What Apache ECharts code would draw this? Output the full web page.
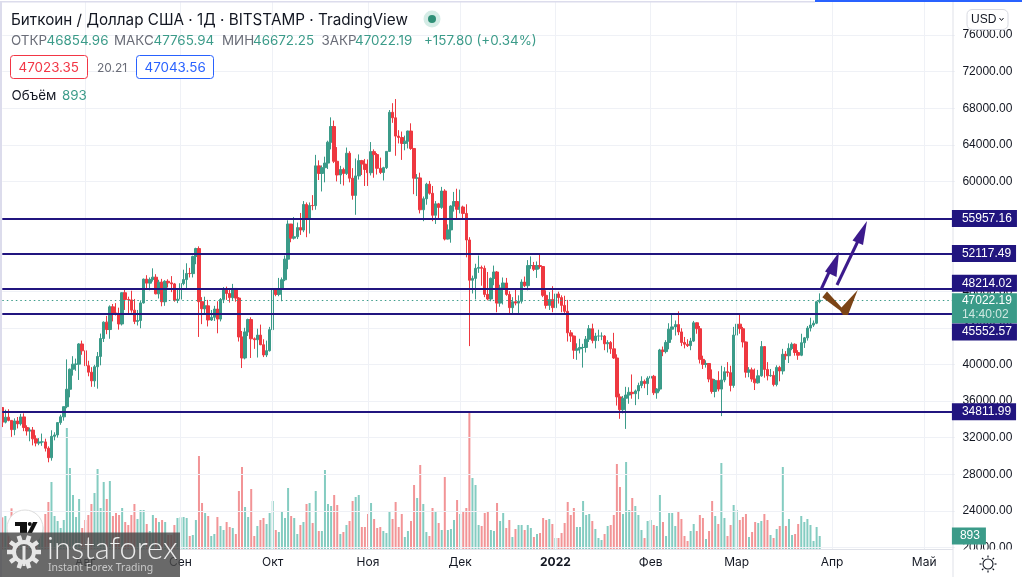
<!DOCTYPE html>
<html><head><meta charset="utf-8">
<style>html,body{margin:0;padding:0;background:#fff}#c{width:1022px;height:577px}</style>
<script src="https://cdn.jsdelivr.net/npm/echarts@6/dist/echarts.min.js"></script>
</head><body><div id="c"></div>
<script>
// one row per month: Jul(5-31) Aug Sep Oct Nov Dec Jan Feb Mar(1-28)
const opens=[
35290,33690,34230,33880,32870,33820,33500,34260,33100,32720,32820,31870,31400,31520,31530,30840,29800,32140,32290,33640,34270,35380,37280,39470,40020,40030,42230,
41490,39860,39150,38200,39740,40870,42830,44620,43810,46290,45600,45560,44420,47830,47100,47050,45930,44700,44800,46720,49320,48880,49290,49530,47720,48980,46850,49080,48910,48800,46990,
47130,48830,49270,49940,49920,51790,52660,46860,46090,46400,44850,45150,46050,44950,47100,48120,47750,47300,48300,47250,43000,40700,43550,44900,42800,42700,43200,42150,41030,41500,
43800,48150,47650,48200,49250,51500,55340,53800,53950,54950,54680,57480,56000,57370,57350,61700,60870,61500,62000,64280,66000,62200,60700,61300,60860,63080,60350,58470,60600,62270,61890,
61300,60950,63250,62930,61430,60970,61500,63280,67550,66950,64950,64800,64150,64400,65500,63600,60350,60380,56900,58100,59700,58700,56300,57550,57150,58950,53700,54700,57300,57800,
56950,57200,56500,53600,49200,49400,50500,50600,50500,47650,47150,49400,50100,46700,48350,48900,47650,46200,46850,46700,46900,49000,48600,50800,50800,50400,50800,50700,47550,46450,47100,
46200,47700,47300,46450,45800,43450,43100,41550,41700,41850,41850,42750,43900,42600,43100,43100,43100,42250,42400,41700,40700,36450,35050,36300,36650,36950,36800,37100,37700,38150,37900,
38500,38700,36900,37300,41570,41400,42400,43850,44100,44350,43550,42400,42200,42050,42550,44550,43900,40550,40000,40100,38400,37050,38250,37300,38300,39200,39100,37700,
43200,44400,43900,42450,39150,39400,38400,37990,38750,41950,39450,38750,38800,37800,39670,39280,41100,40950,41750,42200,41300,41000,42370,42900,43970,44300,44500,46854.96];
const closes=[
33690,34230,33880,32870,33820,33500,34260,33100,32720,32820,31870,31400,31520,31530,30840,29800,32140,32290,33640,34270,35380,37280,39470,40020,40030,42230,41490,
39860,39150,38200,39740,40870,42830,44620,43810,46290,45600,45560,44420,47830,47100,47050,45930,44700,44800,46720,49320,48880,49290,49530,47720,48980,46850,49080,48910,48800,46990,47130,
48830,49270,49940,49920,51790,52660,46860,46090,46400,44850,45150,46050,44950,47100,48120,47750,47300,48300,47250,43000,40700,43550,44900,42800,42700,43200,42150,41030,41500,43800,
48150,47650,48200,49250,51500,55340,53800,53950,54950,54680,57480,56000,57370,57350,61700,60870,61500,62000,64280,66000,62200,60700,61300,60860,63080,60350,58470,60600,62270,61890,61300,
60950,63250,62930,61430,60970,61500,63280,67550,66950,64950,64800,64150,64400,65500,63600,60350,60380,56900,58100,59700,58700,56300,57550,57150,58950,53700,54700,57300,57800,56950,
57200,56500,53600,49200,49400,50500,50600,50500,47650,47150,49400,50100,46700,48350,48900,47650,46200,46850,46700,46900,49000,48600,50800,50800,50400,50800,50700,47550,46450,47100,46200,
47700,47300,46450,45800,43450,43100,41550,41700,41850,41850,42750,43900,42600,43100,43100,43100,42250,42400,41700,40700,36450,35050,36300,36650,36950,36800,37100,37700,38150,37900,38500,
38700,36900,37300,41570,41400,42400,43850,44100,44350,43550,42400,42200,42050,42550,44550,43900,40550,40000,40100,38400,37050,38250,37300,38300,39200,39100,37700,43200,
44400,43900,42450,39150,39400,38400,37990,38750,41950,39450,38750,38800,37800,39670,39280,41100,40950,41750,42200,41300,41000,42370,42900,43970,44300,44500,46850,47022.19];
const highs=[
35300,35050,35100,33900,34100,34250,34600,34650,33340,33100,33160,32250,31950,32440,31880,31040,32800,32580,33650,34500,35400,40550,39550,40900,40630,42320,42600,
42550,40400,39700,39950,41350,43370,44700,45300,46450,46600,46700,46200,47880,48150,47400,48050,47150,45950,47000,49380,49750,49500,50500,49860,49250,49350,49200,49300,49650,48900,48250,
48850,50350,51050,50550,51880,52750,52900,47350,47400,47050,45950,46400,46900,47250,48450,48500,48150,48800,48350,47350,43650,44000,45000,45150,42950,43900,44350,42750,42600,44100,
48450,48350,49450,49500,51900,55750,55350,56100,55500,56550,57850,57700,57700,58500,62900,62300,61750,62700,64450,67000,66650,63750,61700,61500,63700,63300,61450,62500,62950,62350,62450,
62400,64300,63500,63100,62600,61600,63300,67800,68550,69000,65600,65450,65000,65550,66350,63600,60800,60950,58350,59850,60050,59500,57850,57650,59400,59150,55300,57400,58850,59200,
59100,57350,57500,53900,49700,51000,51900,50800,50800,50100,49500,50800,50200,48700,49500,49450,48000,47350,48300,47550,49300,49600,51400,51800,51200,51250,52100,50700,48100,47900,48550,
47900,47950,47550,47500,47050,43750,43150,42300,42800,42250,43100,44300,44450,43450,43800,43500,43200,42650,42550,43450,41100,36800,36550,37550,37500,38900,37250,38000,38700,38350,38700,
39250,38850,37400,41700,41950,42650,44500,45500,44800,45800,43950,43000,42750,42900,44750,44600,44200,40950,40450,40150,39450,38400,39250,39850,39700,40250,39850,44100,
44950,45400,44100,42500,39700,39650,39550,39400,42550,41950,40250,39500,39250,39900,39850,41700,41450,42300,42400,42300,41550,43350,43000,44200,45100,44800,46900,47765.94];
const lows=[
33150,33550,33780,32080,32260,33000,33320,32700,32220,31600,31150,31040,31170,31100,30480,29300,29480,31700,32000,33400,33850,35210,36400,38770,39300,38300,41050,
39450,38700,37550,37550,37350,39900,42450,43300,42800,44700,45350,43800,44250,45950,45550,45650,44400,44250,43950,46650,48350,48100,49050,47650,47200,46350,46400,48400,47900,46850,46700,
46550,48650,48350,49500,49500,50950,43000,44400,45500,44150,44750,44750,43400,44700,46700,47050,46750,47050,46850,42500,39600,40550,43100,40700,41700,40750,42100,40800,40800,41400,
43300,47450,47450,46900,49100,50400,53350,53650,53700,54150,54450,53900,54300,56850,56900,60150,58900,59900,61350,63500,62000,60000,59700,59550,60700,59900,58000,56350,60200,60700,59500,
59500,60650,60400,60750,60800,60100,61350,63280,66400,62800,64150,62350,63400,63600,63450,58600,58400,56500,55650,57450,58550,55650,55350,55900,57000,53550,53650,53300,56700,55900,
56500,55800,51700,42000,47750,47100,50000,48600,47350,47000,46900,48650,45700,46300,46550,47500,45500,45550,46450,45550,46650,48450,48100,50450,50200,49450,50450,47350,46100,45950,45700,
46200,46650,45700,45550,42500,42450,40600,40500,41200,39650,41300,42450,42300,41750,42550,42650,41550,41300,41150,40600,35500,34050,34650,32950,35700,36250,35550,36200,37400,37400,36650,
38050,36650,36250,37050,40900,41200,41650,42700,43150,43200,42000,41750,41900,41550,42450,43350,40100,39500,39650,38050,36800,36400,37050,34350,38050,38650,37050,37450,
42800,43350,41850,38550,38600,38100,37200,37900,38650,38550,38250,38650,37600,37600,38150,38900,40500,40150,41550,40950,40500,40900,41800,42600,43600,44100,44400,46672.25];
const volumes=[
2176,2267,1534,2794,1763,1992,1649,2336,1878,1420,1305,2107,1763,1534,2405,3229,4603,2267,1924,1443,1992,8313,5565,3710,2198,3435,1443,
1992,2336,3092,3847,5496,2817,4603,3435,4672,2267,2473,2336,2817,1855,1649,2336,3092,2061,2679,2679,1718,1237,2336,2130,1855,1992,1855,962,962,1649,2130,
2176,2198,2130,893,962,1992,6389,3160,2473,2267,893,1031,2198,1580,1305,1855,1511,1443,1031,3985,5633,2885,2198,4122,893,1580,1992,2130,1718,2473,
3298,1305,1168,2611,2130,4191,2267,2130,1031,1649,1855,3092,3160,1786,3985,1237,1237,5427,3092,2954,3710,3023,1031,1168,1649,1924,3298,3572,3710,1511,1511,2405,3160,
2061,1443,1511,1237,1099,2611,2061,3229,1511,2405,824,1237,1924,4397,3504,5771,3092,1168,893,2817,2611,1786,1305,4946,1305,1374,1992,3366,2405,2611,2817,
9412,4878,4397,1649,1580,2473,2611,1305,1237,3160,1924,2473,1443,1992,824,1374,1649,1649,1305,1649,1443,824,1031,1099,2130,1992,2061,1718,756,756,1099,
1786,3229,2336,2817,1511,1511,3298,2336,2405,1924,1374,756,618,1031,1580,1649,2336,5840,4259,2405,5977,2679,3504,2954,2336,1305,756,1924,1992,1649,1580,
3710,1855,893,2473,2473,1580,2542,2061,893,550,1237,1718,1237,2336,2130,687,1237,3298,2267,1718,5908,2130,893,1649,
3023,2679,1992,2198,2405,824,1168,1855,1786,1924,2405,1992,962,756,1374,1580,5633,1580,2061,962,1031,1718,2267,1855,2061,1649,550,1511,893];
const monthLabels={'2021-08-01':'Авг','2021-09-01':'Сен','2021-10-01':'Окт','2021-11-01':'Ноя','2021-12-01':'Дек','2022-01-01':'2022','2022-02-01':'Фев','2022-03-01':'Мар','2022-04-01':'Апр','2022-05-01':'Май'};
const levels=[55957.16,52117.49,48214.02,45552.57,34811.99];
const levelOffsets=[0,0,-6,18.5,0];
const lastClose=47022.19, lastVolume=893;
const categories=[];
for(let d=new Date(Date.UTC(2021,6,5)),k=0;k<=310;k++){categories.push(d.toISOString().slice(0,10));d.setUTCDate(d.getUTCDate()+1);}

const UP='#3b9b89',DOWN='#ee3840',VUP='#84ccc1',VDOWN='#f29496',NAVY='#21157f',GRID='#eff1f6',F='Inter, "Liberation Sans", sans-serif',AF='"Liberation Sans",sans-serif';
const chart=echarts.init(document.getElementById('c'),null,{renderer:'canvas'});
const T=(x,y,text,fill,size,extra)=>({type:'text',z:27,silent:true,x,y,style:Object.assign({text,fill,font:`${size}px ${F}`,textVerticalAlign:'middle'},extra||{})});
const poly=(pts,fill,z)=>({type:'polygon',z:z||20,silent:true,shape:{points:pts},style:{fill}});
const ln=(x1,y1,x2,y2,stroke,w,z)=>({type:'line',z:z||20,silent:true,shape:{x1,y1,x2,y2},style:{stroke,lineWidth:w}});
const PURPLE='#3c1a8c',BROWN='#7b4416',OV=46;
const gearTeeth=[];for(let a=0;a<8;a++){const r=a*Math.PI/4;gearTeeth.push(ln(988+Math.cos(r)*6.5,564+Math.sin(r)*6.5,988+Math.cos(r)*8.5,564+Math.sin(r)*8.5,'#131722',1.2));}
const logoTeeth=[];for(let a=0;a<10;a++){const r=a*Math.PI/5;logoTeeth.push(ln(24+Math.cos(r)*11,552+Math.sin(r)*11,24+Math.cos(r)*17,552+Math.sin(r)*17,'#e6e6e6',4.5,OV));}

chart.setOption({
 animation:false,backgroundColor:'#fff',
 textStyle:{fontFamily:F},
 grid:[
  {left:2.3,width:952.6,top:35,height:512.4,containLabel:false},
  {left:2.3,width:952.6,top:2,height:547}
 ],
 xAxis:[
  {type:'category',gridIndex:0,data:categories,boundaryGap:false,show:false},
  {type:'category',gridIndex:1,data:categories,boundaryGap:false,z:6,
   axisLine:{show:false},axisTick:{show:false},
   splitLine:{show:true,interval:(i,v)=>v in monthLabels,lineStyle:{color:GRID,width:1}},
   axisLabel:{interval:(i,v)=>v in monthLabels,margin:7,hideOverlap:false,color:'#131722',fontSize:12,fontFamily:F,
     formatter:v=>v==='2022-01-01'?'{b|2022}':(monthLabels[v]||''),rich:{b:{fontWeight:'bold',fontSize:12,color:'#131722'}}}}
 ],
 yAxis:[
  {type:'value',gridIndex:0,position:'right',min:20000,max:76000,interval:4000,z:2,
   axisLine:{show:false},axisTick:{show:false},
   axisLabel:{margin:7.5,color:'#131722',fontSize:12,fontFamily:AF,padding:[0,0,2,0],formatter:v=>v.toFixed(2)},
   splitLine:{lineStyle:{color:GRID,width:1}}},
  {type:'value',gridIndex:1,min:0,max:37579,show:false,splitLine:{show:false}}
 ],
 series:[
  {type:'bar',name:'Объём',xAxisIndex:1,yAxisIndex:1,barWidth:2,z:1,
   data:volumes.map((v,i)=>({value:v,itemStyle:{color:closes[i]>=opens[i]?VUP:VDOWN}})),
   markLine:{silent:true,symbol:'none',z:8,lineStyle:{color:'rgba(0,0,0,0)',width:0},data:[{yAxis:lastVolume}],
     label:{show:true,position:'end',distance:0,offset:[-3,0],formatter:String(lastVolume),color:'#fff',backgroundColor:UP,padding:[2.5,6,2.5,8],align:'left',fontSize:12,fontFamily:AF}}
  },
  {type:'candlestick',name:'BTCUSD',xAxisIndex:0,yAxisIndex:0,barWidth:3,z:3,clip:false,
   data:opens.map((o,i)=>[o,closes[i],lows[i],highs[i]]),
   itemStyle:{color:UP,color0:DOWN,borderColor:UP,borderColor0:DOWN,borderColorDoji:UP,borderWidth:1},
   markLine:{silent:true,symbol:'none',precision:2,z:9,animation:false,
    data:[
     {yAxis:lastClose,lineStyle:{color:UP,type:[1.5,3],width:1},
      label:{position:'end',distance:0,offset:[-3,8],formatter:'{a|47022.19}\n{b|14:40:02}',backgroundColor:UP,padding:[1,5,1,10],align:'left',
       rich:{a:{color:'#fff',fontSize:12,lineHeight:14,fontFamily:AF},b:{color:'#cfe8e2',fontSize:12,lineHeight:14,fontFamily:AF}}}},
     ...levels.map((v,i)=>({yAxis:v,lineStyle:{color:NAVY,type:'solid',width:2},
      label:{position:'end',distance:0,offset:[-3,levelOffsets[i]],formatter:v.toFixed(2),color:'#fff',backgroundColor:NAVY,padding:[2.5,5,2.5,10],align:'left',fontSize:12,fontFamily:AF}}))
    ]}
  }
 ],
 graphic:{elements:[
  {type:'rect',z:4,silent:true,shape:{x:0,y:549.5,width:1022,height:28},style:{fill:'#fff'}},
  {type:'rect',z:19,silent:true,shape:{x:0,y:2,width:2,height:575},style:{fill:'#dcdcec'}},
  {type:'rect',z:19,silent:true,shape:{x:0,y:1,width:815,height:1.5},style:{fill:'#dcdcec'}},
  {type:'rect',z:19,silent:true,shape:{x:815,y:0,width:207,height:2},style:{fill:'#2962ff'}},
  ln(953,2,953,577,'#dfe1e8',1,7),ln(2,549.5,953,549.5,'#dfe1e8',1,7),
  T(11,20,'Биткоин / Доллар США · 1Д · BITSTAMP · TradingView','#131722',15.25),
  {type:'circle',z:20,silent:true,shape:{cx:432,cy:19,r:8.5},style:{fill:'#d5ece6'}},
  {type:'circle',z:21,silent:true,shape:{cx:432,cy:19,r:4},style:{fill:'#2f8f77'}},
  T(11,41,'ОТКР','#6a6d78',13.4),T(46.5,41,'46854.96',UP,13.4),
  T(114,41,'МАКС','#6a6d78',13.4),T(153.5,41,'47765.94',UP,13.4),
  T(222,41,'МИН','#6a6d78',13.4),T(253,41,'46672.25',UP,13.4),
  T(321.5,41,'ЗАКР','#6a6d78',13.4),T(355,41,'47022.19',UP,13.4),T(424,41,'+157.80 (+0.34%)',UP,13.4),
  {type:'rect',z:20,silent:true,shape:{x:10.5,y:55.5,width:77,height:23,r:3},style:{fill:'#fff',stroke:'#f23645',lineWidth:1}},
  T(18.5,67.5,'47023.35','#f23645',13.4),
  T(97,68,'20.21','#6a6d78',12),
  {type:'rect',z:20,silent:true,shape:{x:136.5,y:55.5,width:77,height:23,r:3},style:{fill:'#fff',stroke:'#2962ff',lineWidth:1}},
  T(144.5,67.5,'47043.56','#2962ff',13.4),
  T(11.5,95.5,'Объём','#131722',13.4),T(62,95.5,'893',UP,13.4),
  {type:'rect',z:25,silent:true,shape:{x:967,y:9.5,width:41,height:20,r:5},style:{fill:'#fff',stroke:'#d8dae2',lineWidth:1}},
  T(971,19.5,'USD','#131722',12,{font:'12px "Liberation Sans",sans-serif'}),
  {type:'polyline',z:26,silent:true,shape:{points:[[999.5,18],[1001.5,20.5],[1003.5,18]]},style:{stroke:'#131722',lineWidth:1,fill:null}},
  // drawn annotations
  ln(821.5,288.5,831,268,PURPLE,3),poly([[839,252],[836.5,277],[825,271.5]],PURPLE),
  ln(837,285,858,241,PURPLE,3),poly([[867,221],[863,245],[852.5,240.5]],PURPLE),
  poly([[827,291.5],[822.3,297.3],[840,310.5],[843,315],[848,315],[857.7,290],[841.5,307.5]],BROWN),
  // gear button
  {type:'circle',z:20,silent:true,shape:{cx:988,cy:564,r:5},style:{fill:'#fff',stroke:'#131722',lineWidth:1.1}},...gearTeeth,
  // TradingView badge
  {type:'circle',z:30,silent:true,shape:{cx:25,cy:528,r:18},style:{fill:'#fff',stroke:'#dddddd',lineWidth:1}},
  poly([[15,522],[27,522],[27,533],[20,533],[20,526],[15,526]],'#111',31),
  {type:'circle',z:31,silent:true,shape:{cx:29.8,cy:524,r:2},style:{fill:'#111'}},
  poly([[33,522],[37.5,522],[32,533],[27.5,533]],'#111',31),
  // watermark
  {type:'rect',z:40,silent:true,shape:{x:0,y:532.5,width:180,height:45},style:{fill:'rgba(72,72,72,0.82)'}},
  {type:'circle',z:OV,silent:true,shape:{cx:24,cy:552,r:10},style:{fill:'none',stroke:'#e6e6e6',lineWidth:4}},
  ...logoTeeth,
  {type:'rect',z:OV,silent:true,shape:{x:22.5,y:546,width:3,height:20},style:{fill:'#e6e6e6'}},
  {type:'text',z:OV,silent:true,x:47,y:549,style:{text:'instaforex',fill:'#ececec',font:'300 31px Lato, "Noto Sans", sans-serif',textVerticalAlign:'middle'}},
  {type:'text',z:OV,silent:true,x:48,y:568,style:{text:'Instant Forex Trading',fill:'#c9c9c9',font:'10.5px "Noto Sans", sans-serif',textVerticalAlign:'middle'}}
 ]}
});
</script></body></html>
